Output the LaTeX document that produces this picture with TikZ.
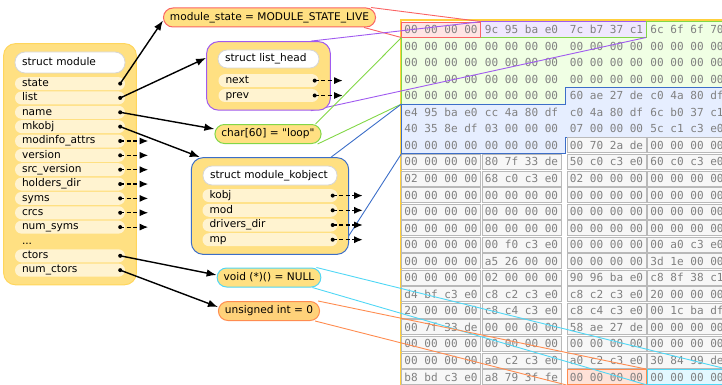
\documentclass[tikz,border=0pt]{standalone}
\usepackage{fontspec}
\setsansfont{DejaVu Sans}
\setmonofont{DejaVu Sans Mono}
\usepackage{xcolor}
\usepackage{tikz}
\usetikzlibrary{arrows.meta,positioning,fit}
\definecolor{kmfill}{RGB}{255,224,130}
\definecolor{kmrim}{RGB}{255,214,92}
\definecolor{kmfld}{RGB}{255,243,208}
\definecolor{kmhdr}{RGB}{214,214,214}
\definecolor{kmunf}{RGB}{255,210,122}
\definecolor{kmred}{RGB}{250,100,100}
\definecolor{kmpur}{RGB}{160,90,240}
\definecolor{kmgrn}{RGB}{130,215,70}
\definecolor{kmblu}{RGB}{60,110,200}
\definecolor{kmcya}{RGB}{80,215,245}
\definecolor{kmora}{RGB}{255,140,80}
\definecolor{kmframe}{RGB}{255,208,60}
\definecolor{kmhex}{RGB}{128,128,128}
\definecolor{kmcell}{RGB}{247,247,247}
\definecolor{kmcellrim}{RGB}{185,185,185}
\definecolor{kmredbg}{RGB}{255,228,228}
\definecolor{kmpurbg}{RGB}{240,232,255}
\definecolor{kmgrnbg}{RGB}{240,255,228}
\definecolor{kmblubg}{RGB}{230,238,255}
\definecolor{kmorabg}{RGB}{255,226,216}
\definecolor{kmcyabg}{RGB}{226,248,255}
\newcommand\zerow{00 00 00 00}
\pgfdeclarelayer{mem}
\pgfdeclarelayer{wire}
\pgfdeclarelayer{back}
\pgfsetlayers{mem,wire,back,main}
\tikzset{
  sbox/.style={
    fill=kmfill, line width=1pt, rounded corners=12pt,
    inner xsep=11pt, inner ysep=8pt
  },
  hdr/.style={
    draw=kmhdr, fill=white, line width=0.8pt, rounded corners=9pt,
    minimum height=19pt, inner xsep=7pt, inner ysep=0pt, align=left,
    text height=8pt, text depth=2.5pt
  },
  fld/.style={
    fill=kmfld, rounded corners=6.5pt, minimum height=13pt,
    inner xsep=7pt, inner ysep=0pt, text width=#1, align=left,
    text height=8pt, text depth=2.5pt
  },
  fld/.default=96pt,
  val/.style={
    draw, fill=kmfill, line width=1pt, rounded corners=9.5pt,
    minimum height=19pt, inner xsep=6.5pt, inner ysep=0pt,
    text height=8pt, text depth=2.5pt
  },
  arr/.style={-{Latex[length=10pt,width=7.5pt]}, draw=black, line width=1.4pt},
  darr/.style={-{Latex[length=8.5pt,width=7pt]}, draw=black, line width=1.2pt,
    dash pattern=on 4pt off 2.5pt},
  dot/.style={fill=black},
  wire/.style={line width=0.9pt},
  memrim/.style={draw=kmframe, line width=2pt},
  hex/.style={
    font=\fontsize{11.07}{13}\ttfamily, text=kmhex,
    minimum width=79pt, minimum height=15pt, inner sep=0pt,
    text height=8pt, text depth=0pt
  },
  cell/.style={hex, draw=kmcellrim, fill=kmcell, line width=0.9pt},
  redcell/.style={draw=kmred, fill=kmredbg},
  oracell/.style={draw=kmora, fill=kmorabg},
  cyacell/.style={draw=kmcya, fill=kmcyabg},
  every picture/.append style={font=\fontsize{10.6}{12.5}\sffamily, line join=round}
}

\begin{document}
\begin{tikzpicture}[x=1pt, y=-1pt]
  \useasboundingbox (0,0) rectangle (722,385);

  % struct module
  \node[hdr, text width=96pt, minimum height=21pt, rounded corners=10pt] (mod)
    at (70,62.5) {struct module};
  \node[fld, below=3.5pt of mod] (m1) {state};
  \foreach \t [count=\i from 2, remember=\i as \j (initially 1)]
      in {list, name, mkobj, modinfo\_attrs, version, src\_version,
          holders\_dir, syms, crcs, num\_syms}
    \node[fld, below=0.95pt of m\j] (m\i) {\t};
  \node[fld, fill=none, below=0.95pt of m11] (m12) {...};
  \node[fld, below=0.95pt of m12] (m13) {ctors};
  \node[fld, below=0.95pt of m13] (m14) {num\_ctors};
  \foreach \i in {1,2,3,4,5,6,7,8,9,10,11,13,14} {
    \coordinate (d\i) at ([xshift=-5pt]m\i.east);
    \fill[dot] (d\i) circle (2pt);
  }
  \foreach \i in {5,...,11} {
    \coordinate (e\i) at ([xshift=28pt]d\i);
    \draw[darr] (d\i) -- (e\i);
  }

  % struct list_head
  \node[hdr, text width=87pt, minimum height=18pt] (lh) at (268.5,59) {struct list\_head};
  \node[fld=86pt, below=5.5pt of lh] (n1) {next};
  \node[fld=86pt, below=1.5pt of n1] (n2) {prev};
  \foreach \i in {1,2} {
    \coordinate (nd\i) at ([xshift=-4pt]n\i.east);
    \coordinate (ne\i) at ([xshift=28pt]nd\i);
    \fill[dot] (nd\i) circle (2pt);
    \draw[darr] (nd\i) -- (ne\i);
  }

  % struct module_kobject
  \node[hdr, text width=120pt] (ko) at (270,175.5) {struct module\_kobject};
  \node[fld=121pt, below=3.5pt of ko] (k1) {kobj};
  \node[fld=121pt, below=1.3pt of k1] (k2) {mod};
  \node[fld=121pt, below=1.3pt of k2] (k3) {drivers\_dir};
  \node[fld=121pt, below=1.3pt of k3] (k4) {mp};
  \foreach \i in {1,...,4} {
    \coordinate (kd\i) at ([xshift=-5pt]k\i.east);
    \coordinate (ke\i) at ([xshift=30pt]kd\i);
    \fill[dot] (kd\i) circle (2pt);
    \draw[darr] (kd\i) -- (ke\i);
  }

  \begin{pgfonlayer}{back}
    \node[sbox, draw=kmrim, fit=(mod)(m14)] (smod) {};
    \node[sbox, draw=kmpur, fit=(lh)(n2)] (slh) {};
    \node[sbox, draw=kmblu, fit=(ko)(k4)] (sko) {};
  \end{pgfonlayer}

  % plain values
  \node[val, draw=kmred] (ms) at (269.5,17.5) {module\_state = MODULE\_STATE\_LIVE};
  \node[val, draw=kmgrn] (ch) at (268,134) {char[60] = \textquotedbl loop\textquotedbl};
  \node[val, draw=kmcya] (vp) at (269,277.5) {void (*)() = NULL};
  \node[val, draw=kmora, fill=kmunf] (ui) at (269,311) {unsigned int = 0};

  \draw[arr] (d1) -- ([yshift=-3pt]ms.west);
  \draw[arr] (d2) -- ([yshift=18pt]slh.west);
  \draw[arr] (d3) -- ([yshift=5pt]ch.west);
  \draw[arr] (d4) -- ([xshift=9pt]sko.north west);
  \draw[arr] (d13) -- ([yshift=2.5pt]vp.west);
  \draw[arr] (d14) -- ([yshift=4pt]ui.west);

  % memory dump, 16 bytes a row
  \begin{pgfonlayer}{mem}
    \draw[memrim] (400.5,392) |- (730,20.3);
    \coordinate (pnw) at (480.5,21.75);
    \coordinate (pse) at (646,37.5);
    \coordinate (gnw) at (401.5,37.5);
    \coordinate (gsw) at (401.5,104);
    \coordinate (bsw) at (401.5,153.6);
    \draw[kmpur, fill=kmpurbg, line width=0.9pt] (pnw) rectangle (pse);
    \draw[kmgrn, fill=kmgrnbg, line width=0.9pt]
      (646,21.75) -- (730,21.75) -- (730,87.4) -- (565,87.4) -- (565,104)
      -- (gsw) -- (gnw) -- (646,37.5) -- cycle;
    \draw[kmblu, fill=kmblubg, line width=0.9pt]
      (565,87.4) -- (730,87.4) -- (730,137.1) -- (565,137.1) -- (565,153.6)
      -- (bsw) -- (gsw) -- (565,104) -- cycle;
    \foreach \row [count=\r] in {
        {\zerow,9c 95 ba e0,7c b7 37 c1,6c 6f 6f 70},
        {\zerow,\zerow,\zerow,\zerow},
        {\zerow,\zerow,\zerow,\zerow},
        {\zerow,\zerow,\zerow,\zerow},
        {\zerow,\zerow,60 ae 27 de,c0 4a 80 df},
        {e4 95 ba e0,cc 4a 80 df,c0 4a 80 df,6c b0 37 c1},
        {40 35 8e df,03 00 00 00,07 00 00 00,5c c1 c3 e0},
        {\zerow,\zerow,00 70 2a de,\zerow},
        {\zerow,80 7f 33 de,50 c0 c3 e0,60 c0 c3 e0},
        {02 00 00 00,68 c0 c3 e0,02 00 00 00,\zerow},
        {\zerow,\zerow,\zerow,\zerow},
        {\zerow,\zerow,\zerow,\zerow},
        {\zerow,\zerow,\zerow,\zerow},
        {\zerow,00 f0 c3 e0,\zerow,00 a0 c3 e0},
        {\zerow,a5 26 00 00,\zerow,3d 1e 00 00},
        {\zerow,02 00 00 00,90 96 ba e0,c8 8f 38 c1},
        {d4 bf c3 e0,c8 c2 c3 e0,c8 c2 c3 e0,20 00 00 00},
        {20 00 00 00,c8 c4 c3 e0,c8 c4 c3 e0,00 1c ba df},
        {00 7f 33 de,\zerow,58 ae 27 de,\zerow},
        {\zerow,\zerow,\zerow,\zerow},
        {\zerow,a0 c2 c3 e0,a0 c2 c3 e0,30 84 99 de},
        {b8 bd c3 e0,a8 79 3f fe,\zerow,\zerow}} {
      \foreach \g [count=\c] in \row {
        \ifcase\c\or\def\gx{441}\or\def\gx{521.5}\or\def\gx{606.5}\or\def\gx{687}\fi
        \pgfmathtruncatemacro\k{4*\r+\c}
        \tikzset{hs/.style=hex}
        \ifnum\k>34 \tikzset{hs/.style=cell}\fi
        \ifnum\k=5 \tikzset{hs/.style={cell,redcell}}\fi
        \ifnum\k=91 \tikzset{hs/.style={cell,oracell}}\fi
        \ifnum\k=92 \tikzset{hs/.style={cell,cyacell}}\fi
        \node[hs] (x\r-\c) at (\gx,{29.5+(\r-1)*16.55}) {\g};
      }
    }
  \end{pgfonlayer}

  % where each value lives
  \begin{pgfonlayer}{wire}
    \draw[wire, kmred] ([xshift=-5pt]ms.north east) -- (x1-1.north east);
    \draw[wire, kmred] ([xshift=-12pt]ms.south east) -- (x1-1.south west);
    \draw[wire, kmpur] ([xshift=-20pt]slh.north east) -- (pnw);
    \draw[wire, kmpur] ([xshift=-20pt]slh.south east) -- (pse);
    \draw[wire, kmgrn] ([xshift=-6pt]ch.north east) -- (gnw);
    \draw[wire, kmgrn] ([xshift=-4pt]ch.south east) -- (gsw);
    \draw[wire, kmblu] ([xshift=-18pt]sko.north east) -- (gsw);
    \draw[wire, kmblu] ([shift={(-5pt,12pt)}]sko.south east) -- (bsw);
    \draw[wire, kmcya] ([xshift=-5pt]vp.north east) -- (x22-4.north east);
    \draw[wire, kmcya] ([xshift=-9pt]vp.south east) -- (x22-4.south west);
    \draw[wire, kmora] ([xshift=-2pt]ui.north east) -- (x22-3.north east);
    \draw[wire, kmora] ([xshift=-5pt]ui.south east) -- (x22-3.south west);
  \end{pgfonlayer}
\end{tikzpicture}
\end{document}
